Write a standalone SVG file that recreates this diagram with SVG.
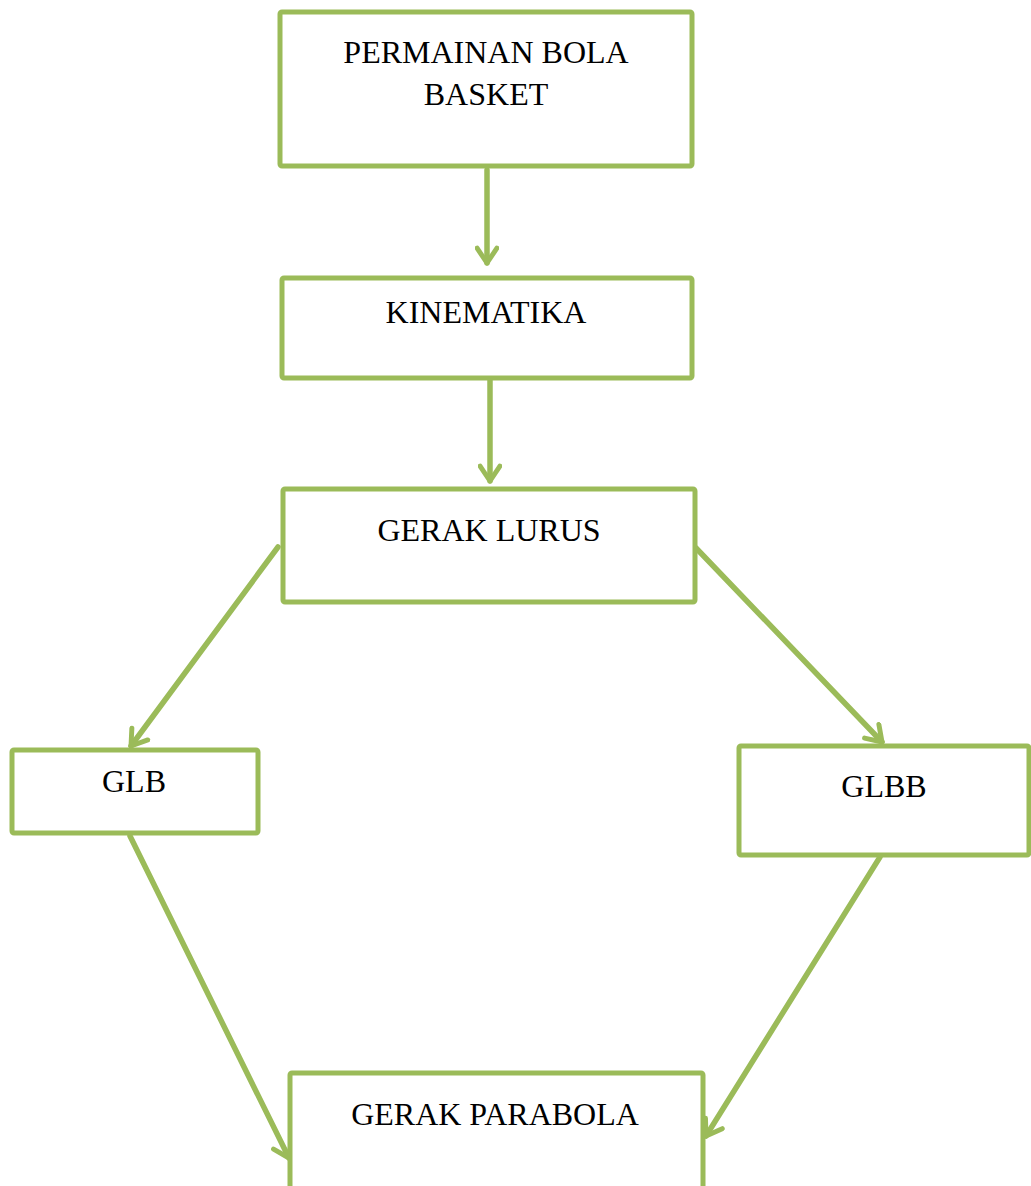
<svg xmlns="http://www.w3.org/2000/svg" width="1031" height="1186" viewBox="0 0 1031 1186">
<defs>
<style>
.box{fill:#fff;stroke:#9BBB59;stroke-width:5;stroke-linejoin:round}
.lbl{font-family:"Liberation Serif","Times New Roman",serif;font-size:32px;fill:#000;text-anchor:middle}
.con{stroke:#9BBB59;stroke-width:5.5;fill:none;stroke-linecap:round}
</style>
<marker id="arr" viewBox="0 0 20 20" refX="15" refY="10" markerWidth="4.5" markerHeight="4.5" markerUnits="strokeWidth" orient="auto">
<polyline points="3,2 15,10 3,18" fill="none" stroke="#9BBB59" stroke-width="4" stroke-linecap="round" stroke-linejoin="round"/>
</marker>
</defs>
<rect width="1031" height="1186" fill="#fff"/>
<g id="connectors">
<line class="con" x1="487" y1="170" x2="487" y2="263" marker-end="url(#arr)"/>
<line class="con" x1="490" y1="380" x2="490" y2="481" marker-end="url(#arr)"/>
<line class="con" x1="278" y1="547" x2="131" y2="746" marker-end="url(#arr)"/>
<line class="con" x1="696" y1="548" x2="882" y2="742" marker-end="url(#arr)"/>
<line class="con" x1="130" y1="836" x2="289" y2="1158" marker-end="url(#arr)"/>
<line class="con" x1="880" y1="857" x2="706" y2="1136" marker-end="url(#arr)"/>
</g>
<g id="n1"><rect class="box" x="280" y="12" width="412" height="154" rx="2"/><text class="lbl" x="486" y="63">PERMAINAN BOLA</text><text class="lbl" x="486" y="105">BASKET</text></g>
<g id="n2"><rect class="box" x="282" y="278" width="410" height="100" rx="2"/><text class="lbl" x="486" y="323">KINEMATIKA</text></g>
<g id="n3"><rect class="box" x="283" y="489" width="412" height="113" rx="2"/><text class="lbl" x="489" y="541">GERAK LURUS</text></g>
<g id="n4"><rect class="box" x="12" y="750" width="246" height="83" rx="2"/><text class="lbl" x="134" y="792">GLB</text></g>
<g id="n5"><rect class="box" x="739" y="746" width="290" height="109" rx="2"/><text class="lbl" x="884" y="797">GLBB</text></g>
<g id="n6"><rect class="box" x="290" y="1073" width="413" height="120" rx="2"/><text class="lbl" x="495" y="1125">GERAK PARABOLA</text></g>
</svg>
